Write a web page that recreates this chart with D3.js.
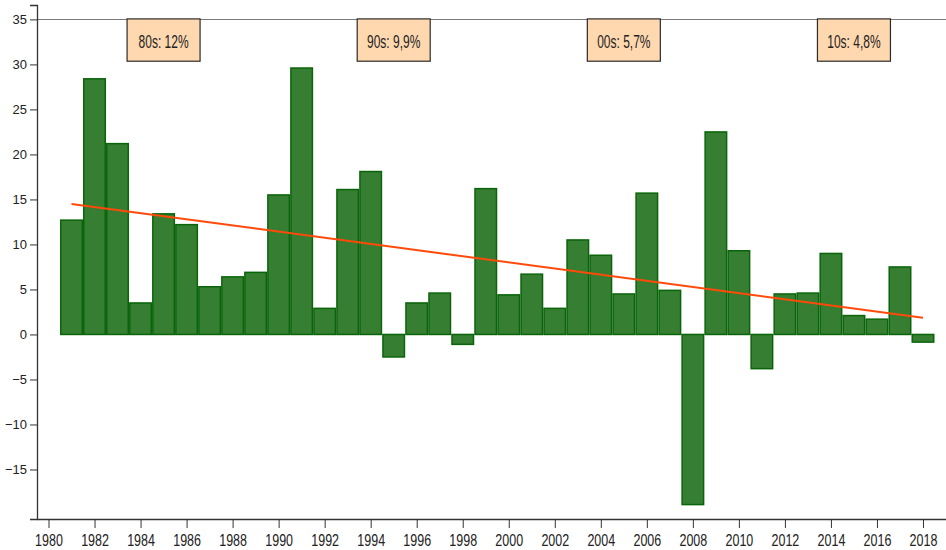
<!DOCTYPE html>
<html>
<head>
<meta charset="utf-8">
<script src="https://cdn.jsdelivr.net/npm/d3@7"></script>
<style>
  body { margin: 0; background: #fff; }
  svg { display: block; font-family: 'Liberation Sans', Arial, sans-serif; }
</style>
</head>
<body>
<svg id="chart"></svg>
<script>
// yearly values
const years = d3.range(1981, 2019);
const values = [
  12.7, 28.4, 21.2, 3.5, 13.4, 12.2, 5.3, 6.4, 6.9, 15.5,
  29.6, 2.9, 16.1, 18.1, -2.5, 3.5, 4.6, -1.1, 16.2, 4.4,
  6.7, 2.9, 10.5, 8.8, 4.5, 15.7, 4.9, -18.9, 22.5, 9.3,
  -3.8, 4.5, 4.6, 9.0, 2.1, 1.7, 7.5, -0.85
];
// trend line ends (first and last year)
const trendYears = [1981, 2018];
const trendValues = [14.5, 1.85];
// decade averages
const decadeLabels = ['80s: 12%', '90s: 9,9%', '00s: 5,7%', '10s: 4,8%'];
const decadeCenters = [1985, 1995, 2005, 2015];
const xTicks = d3.range(1980, 2019, 2);
const yTicks = [-15, -10, -5, 0, 5, 10, 15, 20, 25, 30, 35];

const width = 946;
const height = 550;
const svg = d3.select('#chart').attr('width', width).attr('height', height);

const x = d3.scaleLinear().domain([1979.5, 2019]).range([37, 946]);
const y = d3.scaleLinear().domain([-20.5, 36.6]).range([519, 5]);
const bw = x(1) - x(0);

// grey line at 35
svg.append('line')
  .attr('x1', x(1979.5)).attr('x2', width)
  .attr('y1', Math.round(y(35)) + 0.5).attr('y2', Math.round(y(35)) + 0.5)
  .attr('stroke', '#7a7a7a').attr('stroke-width', 1);

// bars
svg.append('g')
  .selectAll('rect')
  .data(years)
  .join('rect')
  .attr('x', (d) => x(d - 0.5) + 0.75)
  .attr('width', bw - 1.5)
  .attr('y', (d, i) => y(Math.max(0, values[i])))
  .attr('height', (d, i) => Math.abs(y(values[i]) - y(0)))
  .attr('fill', '#367e32')
  .attr('stroke', '#0a650a')
  .attr('stroke-width', 1.5);

// trend
svg.append('line')
  .attr('x1', x(trendYears[0])).attr('y1', y(trendValues[0]))
  .attr('x2', x(trendYears[1])).attr('y2', y(trendValues[1]))
  .attr('stroke', '#ff4a0a')
  .attr('stroke-width', 2);

// decade boxes
const boxW = 73;
const boxes = svg.append('g')
  .selectAll('g')
  .data(decadeLabels)
  .join('g')
  .attr('transform', (d, i) => `translate(${x(decadeCenters[i])},0)`);
boxes.append('rect')
  .attr('x', -boxW / 2)
  .attr('y', y(35) - 0.5)
  .attr('width', boxW)
  .attr('height', y(30.3) - y(35))
  .attr('fill', '#ffd8b0')
  .attr('stroke', '#2a2a2a')
  .attr('stroke-width', 1.2);
boxes.append('text')
  .attr('text-anchor', 'middle')
  .attr('font-size', 12)
  .attr('fill', '#222')
  .attr('transform', 'scale(1,1.5)')
  .attr('y', 48 / 1.5)
  .text((d) => d);

// y axis
const yAxis = svg.append('g')
  .attr('transform', `translate(${x(1979.5)},0)`)
  .call(d3.axisLeft(y).tickValues(yTicks).tickSize(7).tickPadding(3));
yAxis.select('.domain').attr('stroke', '#333').attr('stroke-width', 1.3);
yAxis.selectAll('.tick line').attr('stroke', '#333');
yAxis.selectAll('.tick text')
  .attr('font-size', 13)
  .attr('fill', '#222')
  .attr('font-family', "'Liberation Sans', Arial, sans-serif");

// x axis
const sx = 1.3;
const xAxis = svg.append('g')
  .attr('transform', `translate(0,${y(-20.5)})`)
  .call(d3.axisBottom(x).tickValues(xTicks).tickFormat(d3.format('d')).tickSize(9).tickSizeOuter(0));
xAxis.select('.domain').attr('stroke', '#333').attr('stroke-width', 1.3);
xAxis.selectAll('.tick line').attr('stroke', '#333');
xAxis.selectAll('.tick text')
  .attr('font-size', 12.5)
  .attr('fill', '#222')
  .attr('font-family', "'Liberation Sans', Arial, sans-serif")
  .attr('y', 27 / sx)
  .attr('dy', 0)
  .attr('transform', `scale(1,${sx})`);
</script>
</body>
</html>
